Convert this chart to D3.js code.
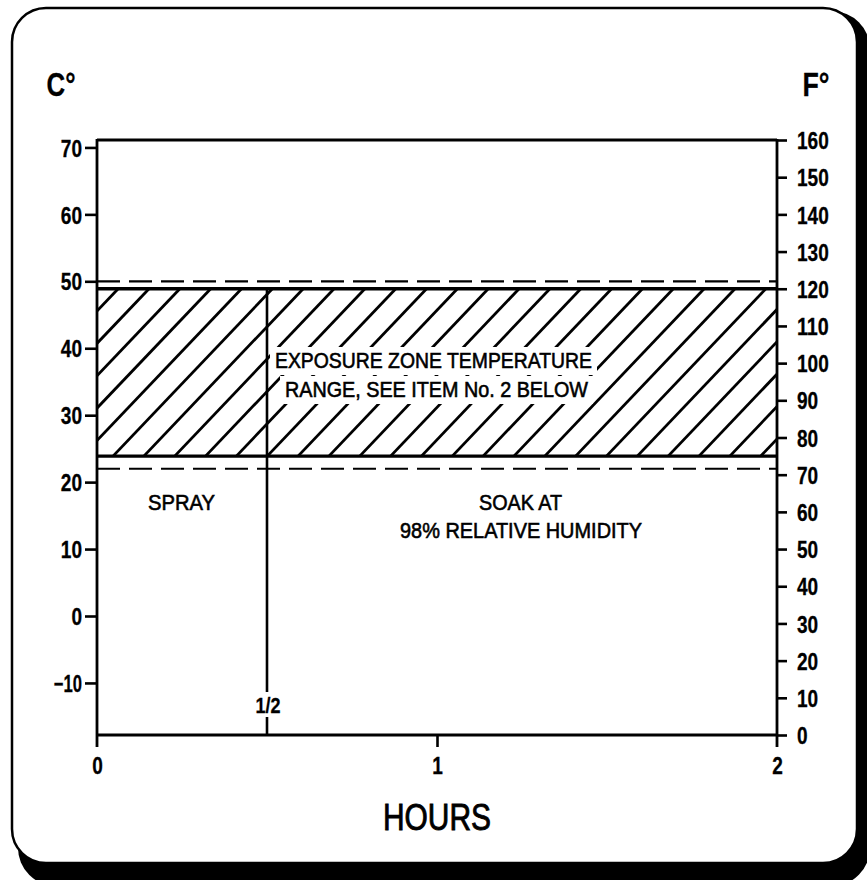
<!DOCTYPE html>
<html><head><meta charset="utf-8">
<script src="https://cdn.jsdelivr.net/npm/d3@7"></script>
<style>
html,body{margin:0;padding:0;background:#fff;}
svg{display:block;}
</style></head>
<body>
<script>
// ---- data ----
const hoursTicks = [0, 1, 2];
const hoursHalf = 0.5;
const celsiusTicks = [-10, 0, 10, 20, 30, 40, 50, 60, 70];
const fahrenheitTicks = [0, 10, 20, 30, 40, 50, 60, 70, 80, 90, 100, 110, 120, 130, 140, 150, 160];
const exposureBandF = [75, 120];      // hatched zone, solid edges (°F)
const toleranceC = [22, 50];          // dashed limits (°C)
const zoneText = ["EXPOSURE ZONE TEMPERATURE", "RANGE, SEE ITEM No. 2 BELOW"];
const sprayText = ["SPRAY"];
const soakText = ["SOAK AT", "98% RELATIVE HUMIDITY"];

// ---- layout ----
const W = 867, H = 880;
const FONT = "'Liberation Sans Narrow','Arial Narrow','Liberation Sans',Arial,sans-serif";
const svg = d3.select("body").append("svg").attr("width", W).attr("height", H);

// frame with shadow
svg.append("rect").attr("x", 18).attr("y", 11).attr("width", 852).attr("height", 875)
  .attr("rx", 38).attr("fill", "#000");
svg.append("rect").attr("x", 12).attr("y", 8).attr("width", 845).attr("height", 855)
  .attr("rx", 34).attr("fill", "#fff").attr("stroke", "#000").attr("stroke-width", 2.5);

const x = d3.scaleLinear().domain([0, 2]).range([97, 777]);
const yF = d3.scaleLinear().domain([0, 160]).range([735, 140]);
const f2c = f => (f - 32) * 5 / 9;
const yC = d3.scaleLinear().domain([f2c(0), f2c(160)]).range([735, 140]);

const x0 = x(0), x2 = x(2), yTop = yF(160), yBot = yF(0);

// hatch zone
const bandTop = yF(exposureBandF[1]), bandBot = yF(exposureBandF[0]);
svg.append("clipPath").attr("id", "bandclip").append("rect")
  .attr("x", x0).attr("y", bandTop).attr("width", x2 - x0).attr("height", bandBot - bandTop);
const hatchG = svg.append("g").attr("clip-path", "url(#bandclip)");
const spacing = 30.84, slope = 1.05, phase = 16;
const bh = bandBot - bandTop;
const hatchStarts = d3.range(-8, 24).map(k => x0 + phase + k * spacing);
hatchG.selectAll("line").data(hatchStarts).join("line")
  .attr("x1", d => d).attr("y1", bandBot)
  .attr("x2", d => d + bh / slope).attr("y2", bandTop)
  .attr("stroke", "#000").attr("stroke-width", 2.8);

// text helper
function addText(g, str, cx, baseline, size, len, weight, sw) {
  return g.append("text").attr("x", cx).attr("y", baseline)
    .attr("text-anchor", "middle")
    .attr("font-family", FONT).attr("font-size", size)
    .attr("font-weight", weight || "normal")
    .attr("fill", "#000").attr("stroke", "#000").attr("stroke-width", sw == null ? 0.6 : sw)
    .attr("textLength", len).attr("lengthAdjust", "spacingAndGlyphs")
    .text(str);
}

// white boxes + zone text
const zoneG = svg.append("g");
const zoneLines = [
  {t: zoneText[0], cx: 433.5, base: 368, len: 317},
  {t: zoneText[1], cx: 436.5, base: 397, len: 303}
];
zoneLines.forEach(l => {
  zoneG.append("rect").attr("x", l.cx - l.len / 2 - 5).attr("y", l.base - 21)
    .attr("width", l.len + 10).attr("height", 28).attr("fill", "#fff");
});
zoneLines.forEach(l => addText(zoneG, l.t, l.cx, l.base, 22, l.len));

// band solid edges
svg.selectAll("line.band").data(exposureBandF).join("line").attr("class", "band")
  .attr("x1", x0).attr("x2", x2).attr("y1", d => yF(d)).attr("y2", d => yF(d))
  .attr("stroke", "#000").attr("stroke-width", 3.4);

// dashed tolerance lines
svg.selectAll("line.tol").data(toleranceC).join("line").attr("class", "tol")
  .attr("x1", x0).attr("x2", x2).attr("y1", d => yC(d)).attr("y2", d => yC(d))
  .attr("stroke", "#000").attr("stroke-width", 2.2).attr("stroke-dasharray", "23,9");

// 1/2 hour vertical line (broken for label)
svg.append("line").attr("x1", x(hoursHalf)).attr("x2", x(hoursHalf))
  .attr("y1", bandTop).attr("y2", 692).attr("stroke", "#000").attr("stroke-width", 2.6);
svg.append("line").attr("x1", x(hoursHalf)).attr("x2", x(hoursHalf))
  .attr("y1", 717).attr("y2", yBot).attr("stroke", "#000").attr("stroke-width", 2.6);
addText(svg, "1/2", x(hoursHalf) + 1, 713, 22, 25, "bold", 0.3);

// plot frame
const frameG = svg.append("g").attr("stroke", "#000").attr("stroke-width", 2.8);
frameG.append("line").attr("x1", x0).attr("x2", x2).attr("y1", yTop).attr("y2", yTop);
frameG.append("line").attr("x1", x0).attr("x2", x2).attr("y1", yBot).attr("y2", yBot);
frameG.append("line").attr("x1", x0).attr("x2", x0).attr("y1", yTop - 1).attr("y2", yBot + 12);
frameG.append("line").attr("x1", x2).attr("x2", x2).attr("y1", yTop - 1).attr("y2", yBot + 12);

// axes
function styleAxis(g) {
  g.select(".domain").remove();
  g.selectAll(".tick line").attr("stroke", "#000").attr("stroke-width", 2.6);
  g.selectAll(".tick text")
    .attr("font-family", FONT).attr("font-size", 24).attr("font-weight", "bold")
    .attr("fill", "#000").attr("stroke", "#000").attr("stroke-width", 0.3)
    .attr("textLength", function() {
      const s = d3.select(this).text();
      let w = 0;
      for (const ch of s) w += (ch === "-" || ch === "\u2212" ? 7 : 10.6);
      return w;
    })
    .attr("lengthAdjust", "spacingAndGlyphs");
}
const leftAxis = svg.append("g").attr("transform", `translate(${x0},0)`)
  .call(d3.axisLeft(yC).tickValues(celsiusTicks).tickSize(12).tickPadding(3).tickFormat(d3.format("d")));
styleAxis(leftAxis);
leftAxis.selectAll(".tick text").attr("dy", "0.36em");

const rightAxis = svg.append("g").attr("transform", `translate(${x2},0)`)
  .call(d3.axisRight(yF).tickValues(fahrenheitTicks).tickSize(10).tickPadding(10).tickFormat(d3.format("d")));
styleAxis(rightAxis);
rightAxis.selectAll(".tick text").attr("dy", "0.36em");

const bottomAxis = svg.append("g").attr("transform", `translate(0,${yBot})`)
  .call(d3.axisBottom(x).tickValues(hoursTicks).tickSize(12).tickPadding(10).tickFormat(d3.format("d")));
styleAxis(bottomAxis);
bottomAxis.selectAll(".tick text").attr("dy", "0.71em");
bottomAxis.selectAll(".tick line").filter(d => d === 0 || d === 2).remove();

// unit labels
addText(svg, "C°", 61, 96, 34, 29, "bold", 0.3);
addText(svg, "F°", 816, 96, 34, 27, "bold", 0.3);

// axis title
addText(svg, "HOURS", x(1), 830, 37, 108, "normal", 0.9);

// region labels
addText(svg, sprayText[0], 181.5, 510, 22, 67);
addText(svg, soakText[0], 520.5, 510, 22, 83);
addText(svg, soakText[1], 521, 538, 22, 242);
</script>
</body></html>
